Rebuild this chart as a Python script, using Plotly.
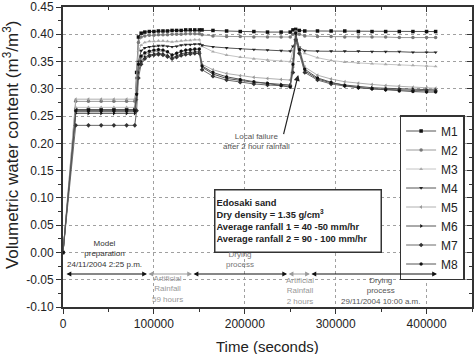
import plotly.graph_objects as go

time_s = [0, 14000, 28000, 42000, 56000, 70000, 79000, 81000, 83000, 86000,
          90000, 95000, 100000, 105000, 110000, 115000, 120000, 125000, 130000, 135000,
          140000, 145000, 150000, 153000, 165000, 180000, 195000, 210000, 225000, 240000,
          250000, 253000, 256000, 260000, 266000, 280000, 295000, 310000, 325000, 340000,
          355000, 370000, 385000, 400000, 410000]

M1 = [0.0, 0.262, 0.262, 0.262, 0.262, 0.262, 0.262, 0.330, 0.395, 0.402,
      0.404, 0.405, 0.405, 0.406, 0.406, 0.406, 0.407, 0.407, 0.407, 0.408,
      0.408, 0.408, 0.408, 0.408, 0.407, 0.406, 0.405, 0.405, 0.404, 0.404,
      0.404, 0.408, 0.409, 0.407, 0.406, 0.406, 0.406, 0.406, 0.405, 0.405,
      0.405, 0.405, 0.405, 0.405, 0.405]
M2 = [0.0, 0.277, 0.277, 0.277, 0.277, 0.277, 0.277, 0.320, 0.385, 0.395,
      0.397, 0.398, 0.398, 0.399, 0.399, 0.399, 0.400, 0.400, 0.400, 0.401,
      0.401, 0.401, 0.401, 0.399, 0.397, 0.396, 0.396, 0.395, 0.395, 0.395,
      0.395, 0.400, 0.405, 0.400, 0.397, 0.396, 0.396, 0.395, 0.395, 0.395,
      0.395, 0.394, 0.394, 0.394, 0.394]
M3 = [0.0, 0.266, 0.266, 0.266, 0.266, 0.266, 0.266, 0.300, 0.370, 0.380,
      0.385, 0.387, 0.387, 0.388, 0.388, 0.387, 0.386, 0.387, 0.388, 0.389,
      0.389, 0.390, 0.390, 0.378, 0.368, 0.362, 0.358, 0.355, 0.353, 0.351,
      0.350, 0.370, 0.390, 0.375, 0.365, 0.357, 0.352, 0.349, 0.347, 0.346,
      0.345, 0.344, 0.343, 0.342, 0.341]
M4 = [0.0, 0.258, 0.258, 0.258, 0.258, 0.258, 0.258, 0.290, 0.350, 0.370,
      0.375, 0.377, 0.378, 0.379, 0.379, 0.378, 0.377, 0.378, 0.380, 0.381,
      0.381, 0.382, 0.382, 0.380, 0.377, 0.375, 0.373, 0.372, 0.371, 0.370,
      0.369, 0.378, 0.386, 0.376, 0.370, 0.369, 0.369, 0.369, 0.369, 0.368,
      0.368, 0.368, 0.367, 0.367, 0.367]
M5 = [0.0, 0.281, 0.281, 0.281, 0.281, 0.281, 0.281, 0.300, 0.340, 0.355,
      0.362, 0.366, 0.368, 0.369, 0.369, 0.367, 0.362, 0.366, 0.369, 0.370,
      0.371, 0.372, 0.372, 0.345, 0.335, 0.328, 0.324, 0.321, 0.319, 0.317,
      0.316, 0.355, 0.400, 0.375, 0.340, 0.325, 0.318, 0.313, 0.310, 0.308,
      0.306, 0.305, 0.303, 0.302, 0.301]
M6 = [0.0, 0.255, 0.255, 0.255, 0.255, 0.255, 0.255, 0.280, 0.330, 0.350,
      0.358, 0.362, 0.364, 0.365, 0.364, 0.361, 0.357, 0.360, 0.364, 0.366,
      0.367, 0.368, 0.368, 0.340, 0.327, 0.319, 0.315, 0.312, 0.310, 0.308,
      0.307, 0.340, 0.398, 0.370, 0.333, 0.318, 0.311, 0.307, 0.304, 0.302,
      0.301, 0.300, 0.299, 0.298, 0.298]
M7 = [0.0, 0.233, 0.233, 0.233, 0.233, 0.233, 0.233, 0.260, 0.320, 0.345,
      0.355, 0.360, 0.362, 0.363, 0.362, 0.359, 0.355, 0.358, 0.361, 0.363,
      0.364, 0.365, 0.365, 0.335, 0.323, 0.316, 0.312, 0.309, 0.307, 0.306,
      0.305, 0.330, 0.390, 0.365, 0.330, 0.316, 0.309, 0.305, 0.302, 0.300,
      0.299, 0.298, 0.297, 0.296, 0.296]
M8 = [0.0, 0.260, 0.260, 0.260, 0.260, 0.260, 0.260, 0.290, 0.345, 0.360,
      0.366, 0.369, 0.371, 0.372, 0.371, 0.368, 0.362, 0.365, 0.369, 0.371,
      0.372, 0.373, 0.373, 0.342, 0.330, 0.322, 0.317, 0.313, 0.310, 0.306,
      0.303, 0.345, 0.402, 0.372, 0.336, 0.320, 0.312, 0.306, 0.302, 0.300,
      0.298, 0.296, 0.295, 0.294, 0.294]

series_names = ["M1", "M2", "M3", "M4", "M5", "M6", "M7", "M8"]
series_values = [M1, M2, M3, M4, M5, M6, M7, M8]
line_colors = ["#555555", "#9a9a9a", "#c4c4c4", "#555555", "#b0b0b0", "#555555", "#6a6a6a", "#555555"]
marker_colors = ["#111111", "#777777", "#aaaaaa", "#222222", "#999999", "#111111", "#333333", "#111111"]
symbols = ["square", "circle", "triangle-up", "triangle-down", "triangle-left",
           "triangle-right", "diamond", "hexagon"]

x_ticks = [0, 100000, 200000, 300000, 400000]
y_ticks = [-0.10, -0.05, 0.00, 0.05, 0.10, 0.15, 0.20, 0.25, 0.30, 0.35, 0.40, 0.45]

FONT = "Liberation Sans, Arial, sans-serif"
AX = "#333333"

fig = go.Figure()
for name, vals, lc, mc, sym in zip(series_names, series_values, line_colors, marker_colors, symbols):
    fig.add_trace(go.Scatter(
        x=time_s, y=vals, name=name, mode="lines+markers",
        line=dict(color=lc, width=1),
        marker=dict(symbol=sym, size=3.5, color=mc),
    ))

# dummy trace to show mirrored top/right axes with inside ticks
fig.add_trace(go.Scatter(x=[None], y=[None], xaxis="x2", yaxis="y2",
                         showlegend=False, hoverinfo="skip"))

fig.update_layout(
    width=475, height=354,
    margin=dict(l=63, r=3, t=7, b=47, autoexpand=False),
    paper_bgcolor="white", plot_bgcolor="white",
    font=dict(family=FONT, size=12, color="#222222"),
    xaxis=dict(
        range=[0, 450000], tickvals=x_ticks, ticktext=[str(v) for v in x_ticks],
        ticks="outside", ticklen=5, tickwidth=1.2, tickcolor=AX,
        showline=True, linecolor=AX, linewidth=2,
        showgrid=True, gridcolor="#a0a0a0", griddash="dot", gridwidth=1,
        zeroline=False, automargin=False,
        minor=dict(dtick=50000, tick0=0, ticks="outside", ticklen=3, tickcolor=AX, showgrid=False),
        tickfont=dict(size=12, family=FONT),
    ),
    yaxis=dict(
        range=[-0.10, 0.45], tickvals=y_ticks, ticktext=[f"{v:.2f}" for v in y_ticks],
        ticks="outside", ticklen=5, tickwidth=1.2, tickcolor=AX,
        showline=True, linecolor=AX, linewidth=2,
        showgrid=True, gridcolor="#a0a0a0", griddash="dot", gridwidth=1,
        zeroline=False, automargin=False,
        minor=dict(dtick=0.025, tick0=0, ticks="outside", ticklen=3, tickcolor=AX, showgrid=False),
        tickfont=dict(size=12, family=FONT),
    ),
    xaxis2=dict(
        overlaying="x", side="top", range=[0, 450000], tickvals=x_ticks,
        showticklabels=False, ticks="inside", ticklen=5, tickcolor=AX,
        showline=True, linecolor=AX, linewidth=2, showgrid=False, zeroline=False, automargin=False,
        minor=dict(dtick=50000, tick0=0, ticks="inside", ticklen=3, tickcolor=AX),
    ),
    yaxis2=dict(
        overlaying="y", side="right", range=[-0.10, 0.45], tickvals=y_ticks,
        showticklabels=False, ticks="inside", ticklen=5, tickcolor=AX,
        showline=True, linecolor=AX, linewidth=2, showgrid=False, zeroline=False, automargin=False,
        minor=dict(dtick=0.025, tick0=0, ticks="inside", ticklen=3, tickcolor=AX),
    ),
    legend=dict(
        x=0.823, y=0.64, xanchor="left", yanchor="top",
        bgcolor="white", bordercolor=AX, borderwidth=1.5,
        font=dict(size=12, family=FONT, color="#222222"),
        itemwidth=30, tracegroupgap=0,
    ),
    showlegend=True,
)

ann = []
# axis titles
ann.append(dict(text="Volumetric water content (m<sup>3</sup>/m<sup>3</sup>)", xref="paper", yref="paper",
                x=-0.127, y=0.54, xanchor="center", yanchor="middle", textangle=-90, showarrow=False,
                font=dict(size=17, family=FONT, color="#222222")))
ann.append(dict(text="Time (seconds)", xref="paper", yref="paper", x=0.501, y=-0.133,
                xanchor="center", yanchor="middle",
                showarrow=False, font=dict(size=15, family=FONT, color="#222222")))

# info box
ann.append(dict(
    text="<b>Edosaki sand<br>Dry density = 1.35 g/cm<sup>3</sup><br>Average ranfall 1 = 40 -50 mm/hr<br>Average ranfall 2 = 90 - 100 mm/hr</b>",
    xref="paper", yref="paper", x=0.5745, y=0.2867, xanchor="center", yanchor="middle",
    align="left", showarrow=False, bgcolor="white", bordercolor=AX, borderwidth=1.5,
    width=163, height=59, font=dict(size=9.3, family=FONT, color="#222222")))

# local failure
ann.append(dict(text="Local failure<br>after 2 hour rainfall", x=212500, y=0.204, xref="x", yref="y",
                xanchor="center", yanchor="middle",
                showarrow=False, font=dict(size=8, family=FONT, color="#555555")))
ann.append(dict(text="", x=258800, y=0.3255, ax=242300, ay=0.214, xref="x", yref="y",
                axref="x", ayref="y", showarrow=True, arrowhead=2, arrowsize=1, arrowwidth=1.2,
                arrowcolor="#222222", standoff=0, startstandoff=0))

# phase labels
phase_text = [
    ("Model<br>preparation<br>24/11/2004 2:25 p.m.", 46200, -0.003, "#333333"),
    ("Artificial<br>Rainfall<br>59 hours", 115500, -0.067, "#999999"),
    ("Drying<br>process", 194700, -0.012, "#777777"),
    ("Artificial<br>Rainfall<br>2 hours", 260700, -0.0707, "#999999"),
    ("Drying<br>process<br>29/11/2004 10:00 a.m.", 348800, -0.0707, "#555555"),
]
for txt, xv, yv, col in phase_text:
    ann.append(dict(text=txt, x=xv, y=yv, xref="x", yref="y", showarrow=False,
                    xanchor="center", yanchor="middle",
                    font=dict(size=8, family=FONT, color=col)))

# phase arrows (double headed)
phase_arrows = [
    (2200, 92400, "#111111"),
    (92400, 142000, "#999999"),
    (142000, 246600, "#111111"),
    (246600, 271700, "#999999"),
    (271700, 411500, "#111111"),
]
for x0, x1, col in phase_arrows:
    ann.append(dict(text="", x=x1, y=-0.0395, ax=x0, ay=-0.0395, xref="x", yref="y",
                    axref="x", ayref="y", showarrow=True, arrowhead=2, arrowside="end+start",
                    arrowsize=0.8, arrowwidth=1.2, arrowcolor=col, standoff=0, startstandoff=0))

fig.update_layout(annotations=ann)
fig.write_html("out.html", config={"displayModeBar": False},
               post_script="document.body.style.margin='0';document.body.style.overflow='hidden';")
